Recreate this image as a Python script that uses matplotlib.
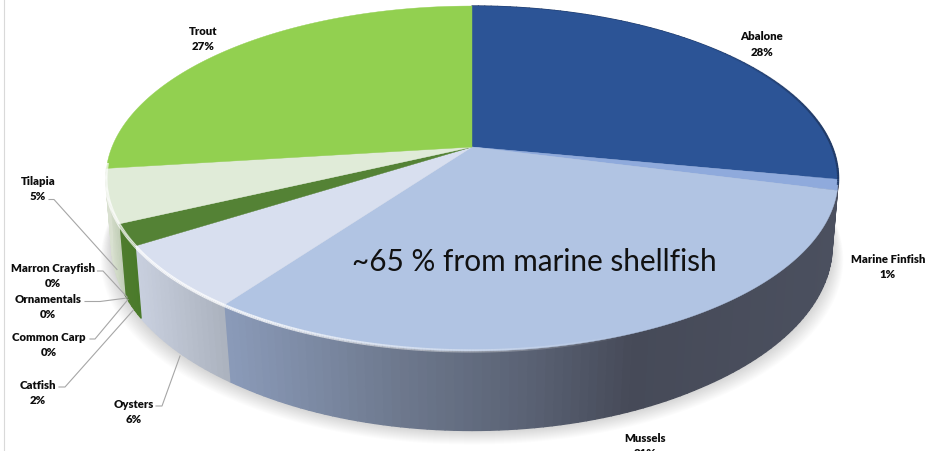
import numpy as np
import matplotlib
matplotlib.use("Agg")
import matplotlib.pyplot as plt
from matplotlib.colors import to_rgb
from matplotlib.collections import PolyCollection, LineCollection

plt.rcParams["font.family"] = ["Lato", "DejaVu Sans"]

categories = ["Abalone", "Marine Finfish", "Mussels", "Oysters", "Catfish",
              "Common Carp", "Ornamentals", "Marron Crayfish", "Tilapia", "Trout"]
values = [28, 1, 31, 6, 2, 0, 0, 0, 5, 27]
top_colors = ["#2c5496", "#8faadc", "#b1c4e3", "#d8dfef", "#548235",
              "#a5a5a5", "#7f7f7f", "#4472c4", "#e0ebd8", "#92d050"]
# wall shading: (pixel x, colour) stops per slice
wall_stops = {
    "Abalone": [(472, "#1f3864"), (838, "#1f3864")],
    "Marine Finfish": [(800, "#4a4f5e"), (838, "#4a4f5e")],
    "Mussels": [(228, "#8a9ab8"), (400, "#6d788d"), (533, "#596173"),
                (633, "#464a58"), (838, "#4b505f")],
    "Oysters": [(135, "#c9d0df"), (228, "#a9b0bc")],
    "Catfish": [(118, "#4f7c2e"), (135, "#4a7a2a")],
    "Tilapia": [(105, "#dbe2d3"), (118, "#c3cfb8")],
}
label_pos = {
    "Trout": (203, 31.5), "Abalone": (762, 36.5), "Marine Finfish": (888, 259.5),
    "Mussels": (645, 438.5), "Oysters": (134, 404.5), "Catfish": (38, 385.5),
    "Common Carp": (49, 337.5), "Ornamentals": (48, 299.5),
    "Marron Crayfish": (53, 268.5), "Tilapia": (38, 181.5),
}
leaders = {
    "Tilapia": [(49, 200.5), (54, 200.5), (117, 270.5)],
    "Marron Crayfish": [(97.5, 272), (103, 272), (127, 298)],
    "Ornamentals": [(85, 302.5), (100, 302.5), (127, 299)],
    "Common Carp": [(90, 340), (95, 340), (128, 300.5)],
    "Catfish": [(59, 388), (65, 388), (133, 311.5)],
    "Oysters": [(156, 407), (162, 407), (180, 357)],
}
annotation = "~65 % from marine shellfish"

CX, CY, RX, RY, K = 472.0, 148.0, 360.0, 166.7, 0.1826
WALL_H, WALL_INSET = 65.0, 6.0


def rim(frac):
    t = 2 * np.pi * np.asarray(frac, float)
    u, v = np.sin(t), -np.cos(t)
    d = 1 - K * v
    return CX + RX * u / d, CY + RY * v / d


def lower(frac):
    x, y = rim(frac)
    t = 2 * np.pi * np.asarray(frac, float)
    u, v = np.sin(t), -np.cos(t)
    return x - WALL_INSET * np.clip(u / 0.55, -1, 1), y + WALL_H / (1 - K * v)


def blend(xs, stops):
    px = [s[0] for s in stops]
    cols = np.array([to_rgb(s[1]) for s in stops])
    return np.column_stack([np.interp(xs, px, cols[:, i]) for i in range(3)])


fig = plt.figure(figsize=(9.26, 4.52), dpi=100)
ax = fig.add_axes([0, 0, 1, 1])
ax.set_xlim(0, 926)
ax.set_ylim(452, 0)
ax.axis("off")

edges = np.concatenate([[0], np.cumsum(values)]) / np.sum(values)

# soft shadow below the pie
ring = np.linspace(0, 1, 361)
rx, ry = lower(ring)
for i in range(1, 15):
    sx = CX + (rx - CX) * (1 + i * 0.0022)
    sy = ry + i * 1.0
    ax.fill(sx, sy, color="#808080", alpha=0.022, lw=0, zorder=1)

# side walls
for name, a, b in zip(categories, edges[:-1], edges[1:]):
    if b <= a or name not in wall_stops:
        continue
    f = np.linspace(a, b, max(int((b - a) * 300), 2) + 1)
    x, y = rim(f)
    xl, yl = lower(f)
    quads = [[(x[i], y[i]), (x[i + 1], y[i + 1]), (xl[i + 1], yl[i + 1]), (xl[i], yl[i])]
             for i in range(len(f) - 1)]
    cols = blend((x[:-1] + x[1:]) / 2, wall_stops[name])
    ax.add_collection(PolyCollection(quads, facecolors=cols, edgecolors=cols,
                                     linewidths=1.0, zorder=2))

# top faces
for name, col, a, b in zip(categories, top_colors, edges[:-1], edges[1:]):
    if b <= a:
        continue
    x, y = rim(np.linspace(a, b, 200))
    ax.fill(np.r_[CX, x], np.r_[CY, y], color=col, lw=0.3, ec=col, zorder=3)

# bevel highlight along the front rim and dark edge on the right
f = np.linspace(0.44, 0.735, 300)
x, y = rim(f)
pts = np.column_stack([x, y])
segs = np.stack([pts[:-1], pts[1:]], axis=1)
alpha = np.clip((f[:-1] - 0.44) / 0.14, 0, 1) * 0.8
cols = np.column_stack([np.ones((len(alpha), 3)), alpha])
ax.add_collection(LineCollection(segs, colors=cols, linewidths=2.4, zorder=4))

f = np.linspace(0.13, 0.285, 100)
x, y = rim(f)
pts = np.column_stack([x, y])
segs = np.stack([pts[:-1], pts[1:]], axis=1)
alpha = np.clip((f[:-1] - 0.13) / 0.1, 0, 1) * 0.9
cols = np.column_stack([np.tile(to_rgb("#1f3864"), (len(alpha), 1)), alpha])
ax.add_collection(LineCollection(segs, colors=cols, linewidths=1.6, zorder=4))

# labels
for name, val in zip(categories, values):
    lx, ly = label_pos[name]
    ax.text(lx, ly, name, ha="center", va="center", fontsize=8.2, fontweight="heavy",
            color="#0d0d0d", zorder=6)
    ax.text(lx, ly + 15.5, f"{val}%", ha="center", va="center", fontsize=8.2,
            fontweight="heavy", color="#0d0d0d", zorder=6, clip_on=False)

for name, p in leaders.items():
    ax.plot(*zip(*p), color="#a6a6a6", lw=0.8, zorder=5)

ax.text(534.5, 262, annotation, ha="center", va="center", fontsize=21.4,
        color="#111111", zorder=6)
ax.plot([3.5, 3.5], [0, 452], color="#d9d9d9", lw=0.8, zorder=0)

fig.savefig("out.png", dpi=100)
